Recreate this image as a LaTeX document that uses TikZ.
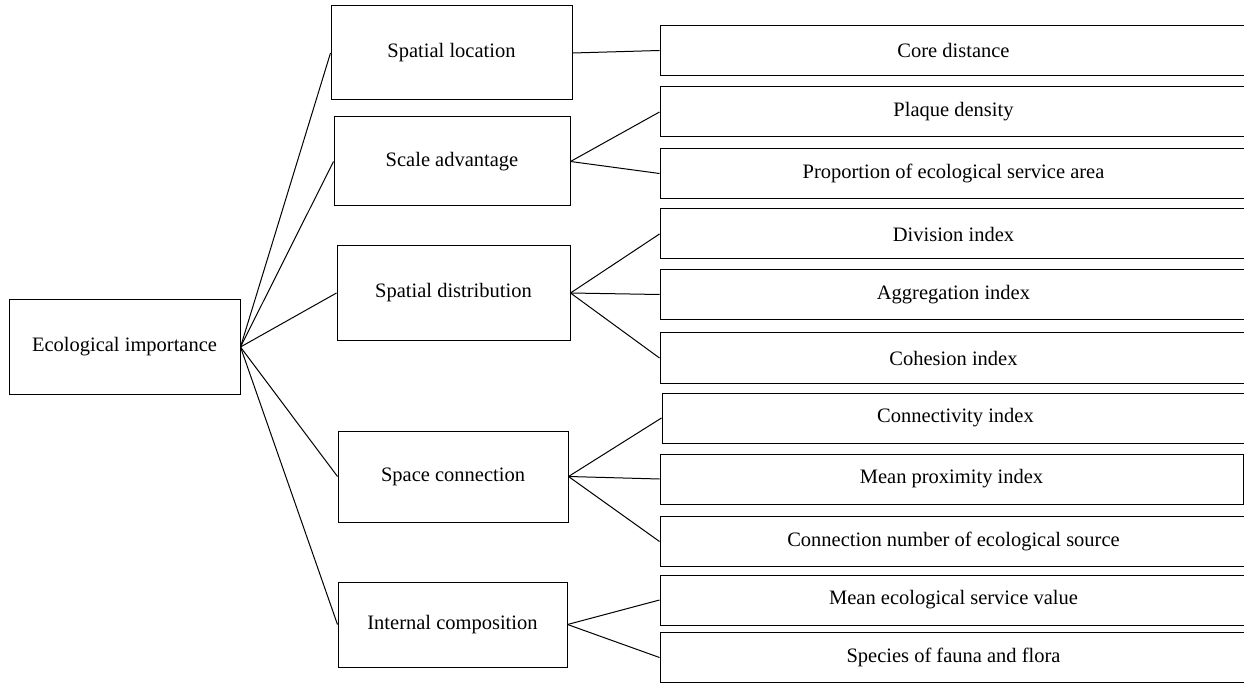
\documentclass[tikz,border=0pt]{standalone}
\usepackage{fontspec}
\setmainfont{Liberation Serif}
\usepackage{tikz}

\begin{document}
\begin{tikzpicture}[x=1pt,y=1pt,yscale=-1,xscale=1,
  line width=1pt,
  box/.style={draw, inner sep=0pt, font=\fontsize{20.5}{24}\selectfont},
  leaf/.style={box, minimum width=587pt, minimum height=50pt}]
  \path[use as bounding box, clip] (0,0) rectangle (1244,684);
  %Root
  \node[box, minimum width=231pt, minimum height=94pt] (root) at (124.5,347) {Ecological importance};
  %Criteria
  \node[box, minimum width=241pt, minimum height=94pt] (loc) at (451.5,53) {Spatial location};
  \node[box, minimum width=236pt, minimum height=89pt] (scale) at (452,161.5) {Scale advantage};
  \node[box, minimum width=233pt, minimum height=94pt] (distr) at (453.5,293) {Spatial distribution};
  \node[box, minimum width=230pt, minimum height=91pt] (conn) at (453,476.5) {Space connection};
  \node[box, minimum width=229pt, minimum height=85pt] (comp) at (452.5,624.5) {Internal composition};
  %Indicators
  \node[leaf] (core) at (953.5,50.5) {Core distance};
  \node[leaf] (plaq) at (953.5,112) {Plaque density};
  \node[leaf] (prop) at (953.5,173.5) {Proportion of ecological service area};
  \node[leaf] (divi) at (953.5,234) {Division index};
  \node[leaf] (aggr) at (953.5,294.5) {Aggregation index};
  \node[leaf] (cohe) at (953.5,358) {Cohesion index};
  \node[leaf] (cnty) at (955.5,418) {Connectivity index};
  \node[leaf, minimum width=583pt] (prox) at (951.5,479) {Mean proximity index};
  \node[leaf] (cnum) at (953.5,541.5) {Connection number of ecological source};
  \node[leaf] (mesv) at (953.5,600) {Mean ecological service value};
  \node[leaf] (spec) at (953.5,657.5) {Species of fauna and flora};
  %Links
  \foreach \c in {loc,scale,distr,conn,comp}
    \draw (root.east) -- (\c.west);
  \draw (loc.east) -- (core.west);
  \foreach \l in {plaq,prop}
    \draw (scale.east) -- (\l.west);
  \foreach \l in {divi,aggr,cohe}
    \draw (distr.east) -- (\l.west);
  \foreach \l in {cnty,prox,cnum}
    \draw (conn.east) -- (\l.west);
  \foreach \l in {mesv,spec}
    \draw (comp.east) -- (\l.west);
\end{tikzpicture}
\end{document}
